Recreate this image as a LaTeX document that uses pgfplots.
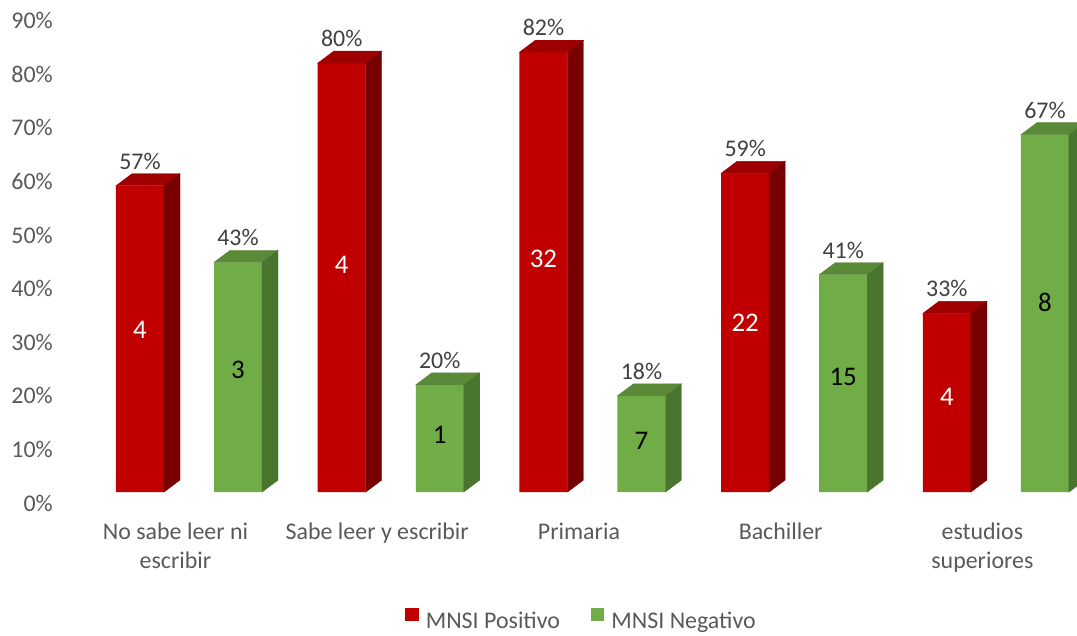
\documentclass[border=0pt]{standalone}
\usepackage{pgfplots}
\pgfplotsset{compat=1.18}
\usepackage{pgfplotstable}
\usepackage{fontspec}
\setmainfont{Carlito}
\definecolor{redf}{HTML}{C00000}
\definecolor{redtop}{HTML}{9E0000}
\definecolor{redside}{HTML}{780000}
\definecolor{greenf}{HTML}{70AD47}
\definecolor{greentop}{HTML}{5A8A38}
\definecolor{greenside}{HTML}{4A752E}
\definecolor{tickgray}{HTML}{595959}
\definecolor{labgray}{HTML}{404040}
\pgfdeclareplotmark{blank}{}
\pgfplotstableread{
x pos neg cpos cneg
0 57.14 42.86 4 3
1 80.00 20.00 4 1
2 82.05 17.95 32 7
3 59.46 40.54 22 15
4 33.33 66.67 4 8
}\data
\pgfplotsset{
  sqlegend/.style={legend image code/.code={\fill[##1] (0bp,0.5bp) rectangle (13.5bp,13.5bp);}},
  pctlabels/.style={nodes near coords={\pgfmathprintnumber[fixed,precision=0]{\pgfplotspointmeta}\%},
    nodes near coords align={center},
    nodes near coords style={inner sep=0pt, yshift=24.5bp, font=\fontsize{24}{29}\selectfont, text=labgray}},
  cube/.style={scatter, only marks, mark=blank, forget plot,
    visualization depends on={rawy \as \val},
    scatter/@pre marker code/.code={%
      \pgfkeys{/pgf/fpu=false}%
      \fill[#1top] (-24bp,0pt) -- (-8bp,12bp) -- (40bp,12bp) -- (24bp,0pt) -- cycle;
      \fill[#1side] (24bp,0pt) -- (40bp,12bp) -- (40bp,{12bp-5.36bp*\val}) -- (24bp,{0pt-5.36bp*\val}) -- cycle;},
    scatter/@post marker code/.code={}},
  countlabels/.style={only marks, mark=blank, forget plot, nodes near coords,
    point meta=explicit symbolic, nodes near coords align={center},
    nodes near coords style={inner sep=0pt, font=\fontsize{27}{32}\selectfont, text=#1}},
}
\begin{document}
\begin{tikzpicture}
\begin{axis}[
  x=201.7bp, y=5.36bp,
  xmin=-0.937, xmax=4.402, ymin=-26.68, ymax=91.79,
  axis line style={draw=none},
  major tick length=0pt,
  tick style={draw=none},
  xtick={0,1,2,3,4},
  xticklabels={{No sabe leer ni\\escribir},{Sabe leer y escribir},{Primaria},{Bachiller},{estudios\\superiores}},
  xticklabel style={align=center, anchor=north, inner sep=0pt, xshift=-13.5bp, yshift=112bp, font=\fontsize{24}{29}\selectfont, text=tickgray},
  ytick={0,10,...,90},
  yticklabel={\pgfmathprintnumber{\tick}\%},
  yticklabel style={anchor=east, inner sep=0pt, xshift=53bp, yshift=-11bp, font=\fontsize{24}{29}\selectfont, text=tickgray},
  /pgf/number format/assume math mode=true,
  clip marker paths=true,
  legend columns=2,
  legend style={at={(0.539,0.0252)}, anchor=center, draw=none, fill=none, inner sep=0pt,
    font=\fontsize{24}{29}\selectfont, text=tickgray,
    nodes={inner sep=0pt},
    /tikz/every odd column/.append style={column sep=7bp},
    /tikz/every even column/.append style={column sep=31bp}},
]
% front faces
\addplot[ybar, bar width=48bp, bar shift=0pt, fill=redf, draw=none, sqlegend, pctlabels,
  point meta=y] table[x expr=\thisrow{x}-0.243, y=pos] {\data};
\addlegendentry{MNSI Positivo}
\addplot[ybar, bar width=48bp, bar shift=0pt, fill=greenf, draw=none, sqlegend, pctlabels,
  point meta=y] table[x expr=\thisrow{x}+0.243, y=neg] {\data};
\addlegendentry{MNSI Negativo}
% top and side faces
\addplot[cube=red] table[x expr=\thisrow{x}-0.243, y=pos] {\data};
\addplot[cube=green] table[x expr=\thisrow{x}+0.243, y=neg] {\data};
% counts inside bars
\addplot[countlabels=white] table[x expr=\thisrow{x}-0.243, y expr=0.53*\thisrow{pos}, meta=cpos] {\data};
\addplot[countlabels=black] table[x expr=\thisrow{x}+0.243, y expr=0.53*\thisrow{neg}, meta=cneg] {\data};
\end{axis}
\pgfresetboundingbox
\useasboundingbox (current axis.south west) rectangle (current axis.north east);
\end{tikzpicture}
\end{document}
